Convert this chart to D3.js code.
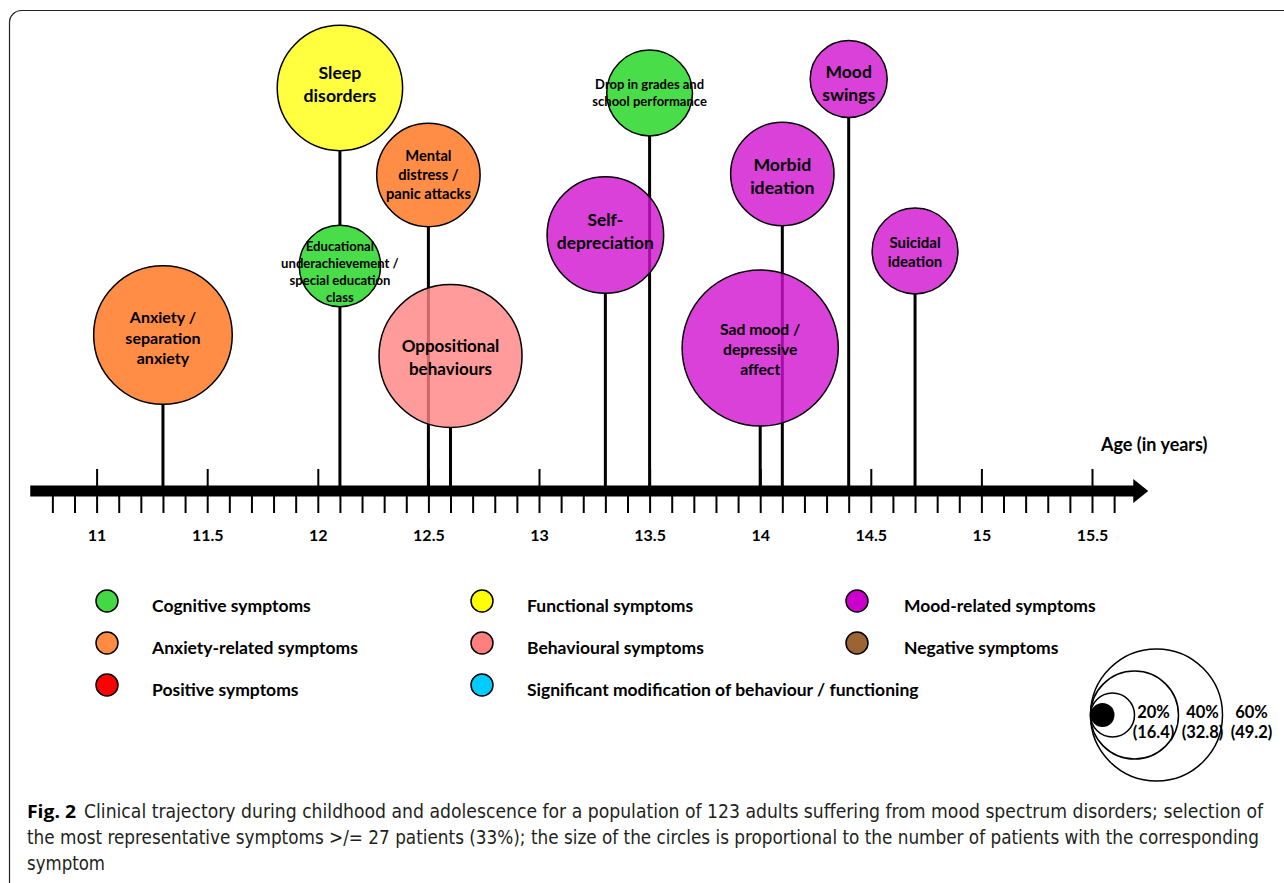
<!DOCTYPE html>
<html>
<head>
<meta charset="utf-8">
<script src="https://cdn.jsdelivr.net/npm/d3@7"></script>
<style>
  body { margin: 0; background: #fff; }
  text { font-family: Lato, "Open Sans", sans-serif; font-weight: bold; fill: #000; }
  .caption { font-family: "Liberation Sans Narrow", "DejaVu Sans Condensed", Roboto, sans-serif; font-weight: normal; fill: #231f20; }
</style>
</head>
<body>
<div id="container"></div>
<script>
// symptoms, age of onset (years) and share of patients (%)
var symptoms = ["Anxiety / separation anxiety", "Sleep disorders", "Educational underachievement / special education class",
  "Mental distress / panic attacks", "Oppositional behaviours", "Self-depreciation", "Drop in grades and school performance",
  "Sad mood / depressive affect", "Morbid ideation", "Mood swings", "Suicidal ideation"];
var ages = [11.3, 12.1, 12.1, 12.5, 12.6, 13.3, 13.5, 14.0, 14.1, 14.4, 14.7];
var percents = [63, 57, 37, 47, 65, 53, 39, 71, 47, 35, 39];
var groups = ["Anxiety-related symptoms", "Functional symptoms", "Cognitive symptoms", "Anxiety-related symptoms",
  "Behavioural symptoms", "Mood-related symptoms", "Cognitive symptoms", "Mood-related symptoms",
  "Mood-related symptoms", "Mood-related symptoms", "Mood-related symptoms"];
var labelLines = [["Anxiety /", "separation", "anxiety"], ["Sleep", "disorders"],
  ["Educational", "underachievement /", "special education", "class"], ["Mental", "distress /", "panic attacks"],
  ["Oppositional", "behaviours"], ["Self-", "depreciation"], ["Drop in grades and", "school performance"],
  ["Sad mood /", "depressive", "affect"], ["Morbid", "ideation"], ["Mood", "swings"], ["Suicidal", "ideation"]];

var legendNames = ["Cognitive symptoms", "Functional symptoms", "Mood-related symptoms",
  "Anxiety-related symptoms", "Behavioural symptoms", "Negative symptoms",
  "Positive symptoms", "Significant modification of behaviour / functioning"];
var legendColors = ["#44d844", "#ffff00", "#cc00cc", "#ff8c42", "#ff7f7f", "#9c6433", "#ff0000", "#00ccff"];
var circleColors = ["#1cd41c", "#ffff10", "#cf12cf", "#ff7018", "#ff8282", "#9c6433", "#ff0000", "#00ccff"];

var tickValues = [11, 11.5, 12, 12.5, 13, 13.5, 14, 14.5, 15, 15.5];
var tickLabels = ["11", "11.5", "12", "12.5", "13", "13.5", "14", "14.5", "15", "15.5"];

var sizePercents = [20, 40, 60];
var sizeCounts = ["(16.4)", "(32.8)", "(49.2)"];

// layout only: height of each bubble above the time line, label font size and nudge
var lift = [156, 403, 225, 316, 135, 256, 398, 143, 317, 412, 240];
var labelSize = [16, 17.7, 13.1, 14.7, 17, 17.4, 13, 15.7, 17.7, 17.5, 15];
var labelDy = [3, -3.5, 5.5, -0.5, 1.5, -3.5, -0.5, 1.5, 2.5, 4, 1];

var width = 1284, height = 883, axisY = 491;

var svg = d3.select("#container")
  .append("svg")
    .attr("width", width)
    .attr("height", height);

// frame
svg.append("rect")
  .attr("x", 9.5).attr("y", 10.5)
  .attr("width", 1300).attr("height", 900)
  .attr("rx", 12)
  .attr("fill", "none")
  .attr("stroke", "#222")
  .attr("stroke-width", 1.2);

var x = d3.scaleLinear().domain([11, 15.5]).range([96.6, 1092]);
var r = d3.scaleLinear().domain([0, 60]).range([0, 66]);
var color = d3.scaleOrdinal().domain(legendNames).range(circleColors);

var items = symptoms.map(function(s, i) {
  return {name: s, age: ages[i], pct: percents[i], group: groups[i],
          lines: labelLines[i], cy: axisY - lift[i], fs: labelSize[i], dy: labelDy[i]};
});

// stems: from the time line (or the bubble beneath) up to the bubble
items.forEach(function(d) {
  var below = items.filter(function(o) { return o !== d && o.age === d.age && o.cy > d.cy; });
  d.stemFrom = below.length ? d3.min(below, function(o) { return o.cy - r(o.pct); }) : axisY;
});

svg.append("g")
  .selectAll("line")
  .data(items)
  .enter()
  .append("line")
    .attr("x1", d => x(d.age))
    .attr("x2", d => x(d.age))
    .attr("y1", d => d.stemFrom)
    .attr("y2", d => d.cy + r(d.pct))
    .attr("stroke", "#000")
    .attr("stroke-width", 3);

// time line with arrow
svg.append("line")
  .attr("x1", x(10.7)).attr("x2", x(15.7) + 2)
  .attr("y1", axisY).attr("y2", axisY)
  .attr("stroke", "#000")
  .attr("stroke-width", 11);
svg.append("path")
  .attr("d", "M" + (x(15.7) - 3) + "," + (axisY - 12) + "L" + (x(15.7) + 12) + "," + axisY + "L" + (x(15.7) - 3) + "," + (axisY + 12) + "Z")
  .attr("fill", "#000");

var minor = d3.range(108, 157).map(d => d / 10);
var gMinor = svg.append("g")
  .attr("transform", "translate(0," + (axisY + 5) + ")")
  .call(d3.axisBottom(x).tickValues(minor).tickSize(17).tickFormat(""));
gMinor.select(".domain").remove();
gMinor.selectAll("line").attr("stroke-width", 2);

var gMajor = svg.append("g")
  .attr("transform", "translate(0," + (axisY - 5) + ")")
  .call(d3.axisTop(x).tickValues(tickValues).tickSize(17).tickFormat(""));
gMajor.select(".domain").remove();
gMajor.selectAll("line").attr("stroke-width", 2);

var gLab = svg.append("g")
  .attr("transform", "translate(0,530)")
  .call(d3.axisBottom(x).tickValues(tickValues).tickSize(0).tickPadding(0)
    .tickFormat(function(d, i) { return tickLabels[i]; }));
gLab.select(".domain").remove();
gLab.selectAll("text")
  .style("font-family", "Lato, 'Open Sans', sans-serif")
  .style("font-weight", "bold")
  .style("font-size", "16px")
  .attr("fill", "#000");

svg.append("text")
  .attr("x", 1101).attr("y", 451)
  .style("font-size", "18px")
  .text("Age (in years)");

// bubbles
var bubbles = svg.append("g")
  .selectAll("g")
  .data(items)
  .enter()
  .append("g");

bubbles.append("circle")
  .attr("cx", d => x(d.age))
  .attr("cy", d => d.cy)
  .attr("r", d => r(d.pct))
  .attr("fill", d => color(d.group))
  .attr("fill-opacity", 0.8)
  .attr("stroke", "#000")
  .attr("stroke-width", 1.5);

bubbles.append("text")
  .attr("text-anchor", "middle")
  .style("font-size", d => d.fs + "px")
  .each(function(d) {
    var t = d3.select(this), lh = d.fs * 1.3, n = d.lines.length;
    d.lines.forEach(function(line, i) {
      t.append("tspan")
        .attr("x", x(d.age))
        .attr("y", d.cy + d.dy + (i - (n - 1) / 2) * lh + d.fs * 0.35)
        .text(line);
    });
  });

// category legend
var legend = svg.append("g")
  .selectAll("g")
  .data(legendNames)
  .enter()
  .append("g")
    .attr("transform", function(d, i) {
      return "translate(" + [107, 482, 857][i % 3] + "," + (601 + Math.floor(i / 3) * 42) + ")";
    });
legend.append("circle")
  .attr("r", 11)
  .attr("fill", (d, i) => legendColors[i])
  .attr("stroke", "#000")
  .attr("stroke-width", 1.5);
legend.append("text")
  .attr("x", (d, i) => i % 3 === 2 ? 47 : 45)
  .attr("y", 11)
  .style("font-size", "17.5px")
  .text(d => d);

// size legend
var sizeX = 1090.5, sizeY = 715;
svg.append("g")
  .selectAll("circle")
  .data(sizePercents)
  .enter()
  .append("circle")
    .attr("cx", d => sizeX + r(d))
    .attr("cy", sizeY)
    .attr("r", d => r(d))
    .attr("fill", "none")
    .attr("stroke", "#000")
    .attr("stroke-width", 1.5);
svg.append("circle")
  .attr("cx", sizeX + 12).attr("cy", sizeY).attr("r", 12)
  .attr("fill", "#000");

var sizeText = svg.append("g")
  .selectAll("text")
  .data(sizePercents)
  .enter()
  .append("text")
    .attr("text-anchor", "middle")
    .style("font-size", "16.5px");
sizeText.append("tspan")
  .attr("x", (d, i) => sizeX + 2 * r(d) + 19 + 5 * i)
  .attr("y", sizeY + 3)
  .text(d => d + "%");
sizeText.append("tspan")
  .attr("x", (d, i) => sizeX + 2 * r(d) + 19 + 5 * i)
  .attr("y", sizeY + 23)
  .text((d, i) => sizeCounts[i]);

// caption
var cap = svg.append("g");
cap.append("text")
  .attr("x", 27).attr("y", 818)
  .attr("textLength", 49)
  .attr("lengthAdjust", "spacingAndGlyphs")
  .style("font-family", "'Open Sans', sans-serif")
  .style("font-size", "18px")
  .attr("fill", "#231f20")
  .text("Fig. 2");
cap.append("text")
  .attr("class", "caption")
  .attr("x", 84).attr("y", 818)
  .attr("textLength", 1179)
  .attr("lengthAdjust", "spacingAndGlyphs")
  .style("font-size", "19px")
  .text("Clinical trajectory during childhood and adolescence for a population of 123 adults suffering from mood spectrum disorders; selection of");
cap.append("text")
  .attr("class", "caption")
  .attr("x", 27).attr("y", 844)
  .attr("textLength", 1232)
  .attr("lengthAdjust", "spacingAndGlyphs")
  .style("font-size", "19px")
  .text("the most representative symptoms >/= 27 patients (33%); the size of the circles is proportional to the number of patients with the corresponding");
cap.append("text")
  .attr("class", "caption")
  .attr("x", 27).attr("y", 870)
  .attr("textLength", 78)
  .attr("lengthAdjust", "spacingAndGlyphs")
  .style("font-size", "19px")
  .text("symptom");
</script>
</body>
</html>
